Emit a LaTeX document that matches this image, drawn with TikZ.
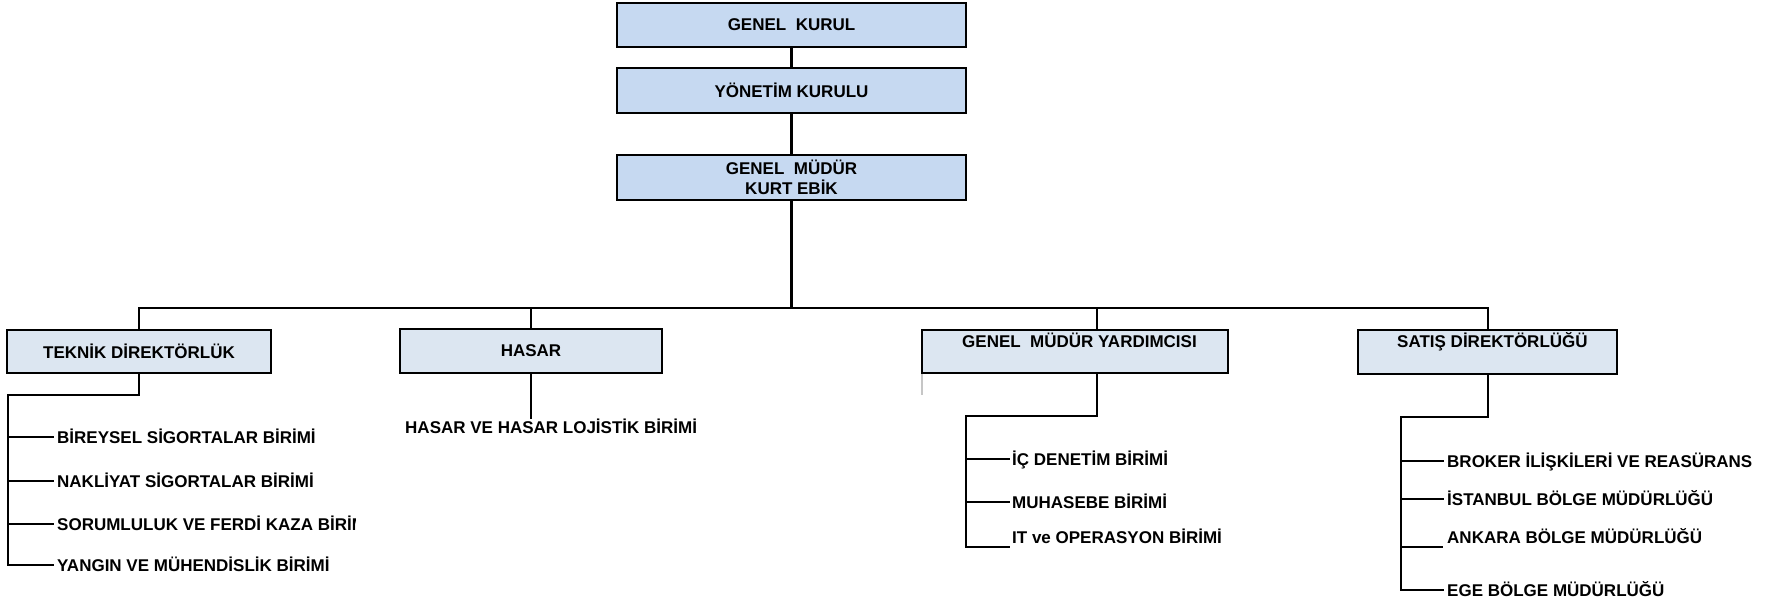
\documentclass[tikz,border=0pt]{standalone}
\usepackage{fontspec}
\setmainfont{Liberation Sans}
\definecolor{topblue}{RGB}{198,217,241}
\definecolor{subblue}{RGB}{220,230,241}
\newcommand{\bx}{\fontsize{17}{20}\selectfont\bfseries}
\tikzset{
  topbox/.style={draw, line width=2.4pt, fill=topblue, minimum width=349pt, inner sep=0pt, font=\bx, align=center},
  subbox/.style={draw, line width=2.4pt, fill=subblue, inner sep=0pt, font=\bx, align=center},
  item/.style={anchor=west, inner sep=0pt, font=\bx, text height=12.2pt, text depth=0pt},
  conn/.style={line width=2.1pt},
}
\begin{document}
\begin{tikzpicture}[x=1pt,y=-1pt]
\useasboundingbox (0,0) rectangle (1775,602);
% top chain
\node[topbox, minimum height=44pt] (gk) at (791.5,25) {GENEL\ \ KURUL};
\node[topbox, minimum height=45pt] (yk) at (791.5,90.5) {YÖNETİM KURULU};
\node[topbox, minimum height=45pt] (gm) at (791.5,177.5) {GENEL\ \ MÜDÜR\\KURT EBİK};
\draw[conn] (gk.south) -- (yk.north);
\draw[conn] (yk.south) -- (gm.north);
% second level
\node[subbox, minimum width=264pt, minimum height=43pt] (tek) at (139,351.5) {TEKNİK DİREKTÖRLÜK};
\node[subbox, minimum width=262pt, minimum height=44pt] (has) at (531,351) {HASAR};
\node[subbox, minimum width=306pt, minimum height=43pt] (gmy) at (1075,351.5) {};
\node[item] (gmyt) at (962,341) {GENEL\ \ MÜDÜR YARDIMCISI};
\node[subbox, minimum width=259pt, minimum height=44pt] (sat) at (1487.5,352) {};
\node[item] (satt) at (1397,341) {SATIŞ DİREKTÖRLÜĞÜ};
% bus
\coordinate (bus) at (791.5,308);
\coordinate (gmyin) at (1097,330);
\coordinate (satin) at (1488,330);
\draw[conn] (gm.south) -- (bus);
\draw[conn] (tek.north) |- (bus) -| (satin);
\draw[conn] (has.north) -- (has.north |- bus);
\draw[conn] (gmyin) -- (gmyin |- bus);
\draw[gray!45, line width=1.2pt] (922,374) -- (922,395);
% TEKNIK list
\node[item] (t1) at (57,437) {BİREYSEL SİGORTALAR BİRİMİ};
\node[item] (t2) at (57,481) {NAKLİYAT SİGORTALAR BİRİMİ};
\begin{scope}
\clip (0,505) rectangle (355,545);
\node[item] (t3) at (57,524) {SORUMLULUK VE FERDİ KAZA BİRİMİ};
\end{scope}
\node[item] (t4) at (57,565) {YANGIN VE MÜHENDİSLİK BİRİMİ};
\coordinate (tkv) at (8,395);
\draw[conn] (tek.south) |- (tkv) |- ([xshift=-3pt]t4.west);
\draw[conn] (tkv |- t1.west) -- ([xshift=-3pt]t1.west);
\draw[conn] (tkv |- t2.west) -- ([xshift=-3pt]t2.west);
\draw[conn] (tkv |- t3.west) -- ([xshift=-3pt]t3.west);
% HASAR list
\node[item] (h1) at (405,427) {HASAR VE HASAR LOJİSTİK BİRİMİ};
\draw[conn] (has.south) -- (531,419);
% GMY list
\coordinate (gmyout) at (1097,373);
\coordinate (gv) at (966,416);
\node[item] (g1) at (1012,459) {İÇ DENETİM BİRİMİ};
\node[item] (g2) at (1012,502) {MUHASEBE BİRİMİ};
\node[item] (g3) at (1012,537) {IT ve OPERASYON BİRİMİ};
\draw[conn] (gmyout) |- (gv) |- (1010,547);
\draw[conn] (gv |- g1.west) -- ([xshift=-2pt]g1.west);
\draw[conn] (gv |- g2.west) -- ([xshift=-2pt]g2.west);
% SATIS list
\coordinate (satout) at (1488,374);
\coordinate (sv) at (1401,417);
\node[item] (s1) at (1447,461) {BROKER İLİŞKİLERİ VE REASÜRANS};
\node[item] (s2) at (1447,499) {İSTANBUL BÖLGE MÜDÜRLÜĞÜ};
\node[item] (s3) at (1447,537) {ANKARA BÖLGE MÜDÜRLÜĞÜ};
\node[item] (s4) at (1447,590) {EGE BÖLGE MÜDÜRLÜĞÜ};
\draw[conn] (satout) |- (sv) |- ([xshift=-3pt]s4.west);
\draw[conn] (sv |- s1.west) -- ([xshift=-3pt]s1.west);
\draw[conn] (sv |- s2.west) -- ([xshift=-3pt]s2.west);
\draw[conn] (1401,547) -- (1443,547);
\end{tikzpicture}
\end{document}
